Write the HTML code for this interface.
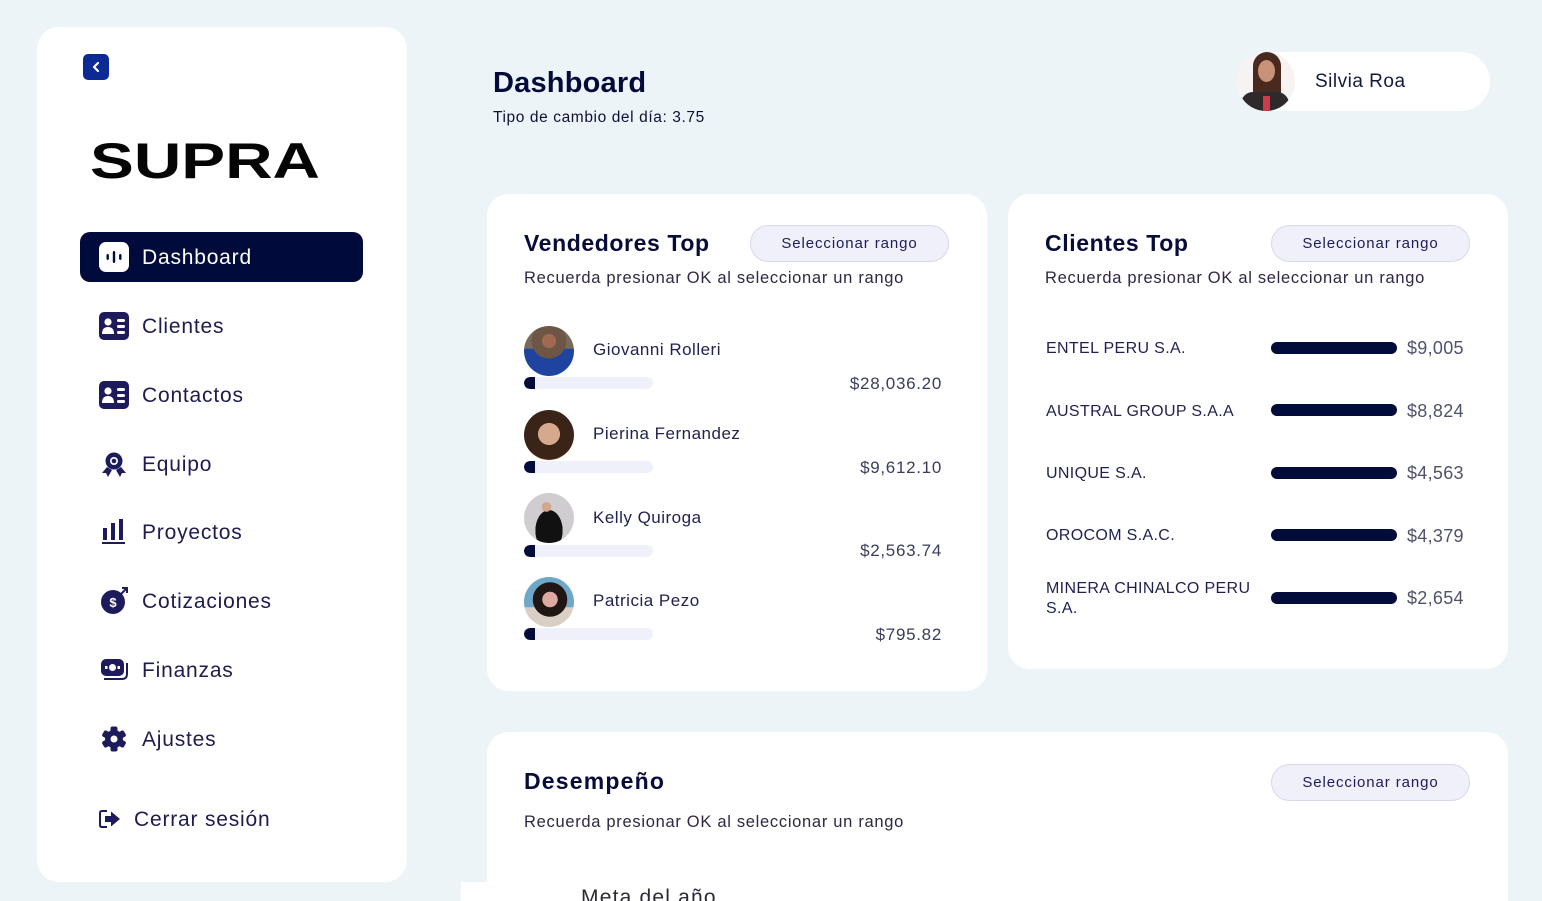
<!DOCTYPE html>
<html style="width:1542px;height:901px;overflow:hidden"><head><meta charset="utf-8">
<style>
*{margin:0;padding:0;box-sizing:border-box}
body{width:1542px;height:901px;overflow:hidden;background:#edf4f8;font-family:"Liberation Sans",sans-serif;position:relative;color:#1c1d4d}
.a{position:absolute;white-space:nowrap}
.card{position:absolute;background:#fff;border-radius:22px}
.menu{position:absolute;left:142px;font-size:21px;letter-spacing:0.8px;color:#1c1c4e;line-height:24px}
.ic{position:absolute;left:99px}
.ttl{position:absolute;font-weight:bold;font-size:23px;letter-spacing:0.6px;color:#070c38;line-height:28px}
.btn{position:absolute;width:199px;height:37px;border-radius:19px;background:#f0f0fb;border:1px solid #d9d8ea;font-size:15px;letter-spacing:0.9px;color:#1d1c57;text-align:center;line-height:35px}
.sub{position:absolute;font-size:16.5px;letter-spacing:0.7px;color:#2f2743;line-height:20px}
.av{position:absolute;width:50px;height:50px;border-radius:50%;overflow:hidden}
.vn{position:absolute;left:593px;font-size:17px;letter-spacing:0.5px;color:#202350;line-height:20px}
.pb{position:absolute;left:524px;width:129px;height:12px;border-radius:6px;background:#f0f0fa;overflow:hidden}
.pb i{position:absolute;left:0;top:0;width:11px;height:12px;background:#020c3b;border-radius:6px 0 0 6px}
.amt{position:absolute;right:600px;font-size:17px;letter-spacing:0.7px;color:#3b3c5c;line-height:20px}
.cn{position:absolute;left:1046px;font-size:16px;letter-spacing:0.35px;color:#1e2150;line-height:20px;width:220px;white-space:normal}
.cb{position:absolute;left:1271px;width:126px;height:12px;border-radius:6px;background:#020c3b}
.ca{position:absolute;left:1407px;font-size:18px;letter-spacing:0.3px;color:#50526c;line-height:20px}
</style></head><body>

<!-- Sidebar -->
<div class="card" style="left:37px;top:27px;width:370px;height:855px;border-radius:22px"></div>
<div class="a" style="left:83px;top:54px;width:26px;height:26px;border-radius:5px;background:#0b2a96"></div>
<svg class="a" style="left:83px;top:54px" width="26" height="26"><path d="M15 9 L11 13 L15 17" stroke="#fff" stroke-width="2.2" fill="none" stroke-linecap="round" stroke-linejoin="round"/></svg>

<svg class="a" style="left:88px;top:130px" width="240" height="56">
<text x="2" y="48" font-family="Liberation Sans" font-weight="bold" font-size="50" textLength="230" lengthAdjust="spacingAndGlyphs" fill="#050505">SUPRA</text>
</svg>

<div class="a" style="left:80px;top:232px;width:283px;height:50px;border-radius:10px;background:#010b3b"></div>
<div class="a" style="left:99px;top:242px;width:30px;height:30px;border-radius:7px;background:#fff"></div>
<svg class="a" style="left:99px;top:242px" width="30" height="30"><rect x="7.5" y="12" width="2.4" height="6" rx="1.2" fill="#010b3b"/><rect x="13.8" y="9" width="2.4" height="12" rx="1.2" fill="#010b3b"/><rect x="20.1" y="12" width="2.4" height="6" rx="1.2" fill="#010b3b"/></svg>
<div class="menu" style="top:246px;color:#fff">Dashboard</div>

<!-- Clientes icon -->
<svg class="ic" style="top:312px" width="30" height="28"><rect x="0" y="0" width="30" height="28" rx="5" fill="#1e1b5c"/><circle cx="9" cy="10" r="3.6" fill="#fff"/><path d="M3 22 Q3 15 9 15 Q15 15 15 22 Z" fill="#fff"/><rect x="18" y="7" width="8" height="3" rx="1.5" fill="#fff"/><rect x="18" y="13" width="8" height="3" rx="1.5" fill="#fff"/><rect x="18" y="19" width="8" height="3" rx="1.5" fill="#fff"/></svg>
<div class="menu" style="top:315px">Clientes</div>

<svg class="ic" style="top:381px" width="30" height="28"><rect x="0" y="0" width="30" height="28" rx="5" fill="#1e1b5c"/><circle cx="9" cy="10" r="3.6" fill="#fff"/><path d="M3 22 Q3 15 9 15 Q15 15 15 22 Z" fill="#fff"/><rect x="18" y="7" width="8" height="3" rx="1.5" fill="#fff"/><rect x="18" y="13" width="8" height="3" rx="1.5" fill="#fff"/><rect x="18" y="19" width="8" height="3" rx="1.5" fill="#fff"/></svg>
<div class="menu" style="top:384px">Contactos</div>

<!-- Equipo icon -->
<svg class="ic" style="top:451px;left:100px" width="28" height="28"><circle cx="14" cy="10" r="8.5" fill="#1e1b5c"/><circle cx="14" cy="10" r="4" fill="#fff"/><circle cx="14" cy="10" r="2.3" fill="#1e1b5c"/><path d="M7 16 L2 22 L6 22 L8 26 L12 19 Z" fill="#1e1b5c"/><path d="M21 16 L26 22 L22 22 L20 26 L16 19 Z" fill="#1e1b5c"/></svg>
<div class="menu" style="top:453px">Equipo</div>

<!-- Proyectos icon -->
<svg class="ic" style="top:518px;left:101px" width="26" height="28"><rect x="2" y="10" width="4" height="12" fill="#1e1b5c"/><rect x="10" y="5" width="4" height="17" fill="#1e1b5c"/><rect x="18" y="1" width="4" height="21" fill="#1e1b5c"/><rect x="1" y="24" width="23" height="2" fill="#1e1b5c"/></svg>
<div class="menu" style="top:521px">Proyectos</div>

<!-- Cotizaciones icon -->
<svg class="ic" style="top:587px;left:100px" width="30" height="28"><circle cx="13" cy="15" r="12" fill="#1e1b5c"/><text x="13" y="20" text-anchor="middle" font-family="Liberation Sans" font-weight="bold" font-size="13" fill="#fff">$</text><path d="M20 8 L27 1 M22 1 L27 1 L27 6" stroke="#1e1b5c" stroke-width="2" fill="none"/></svg>
<div class="menu" style="top:590px">Cotizaciones</div>

<!-- Finanzas icon -->
<svg class="ic" style="top:658px;left:100px" width="30" height="26"><rect x="1" y="1" width="23" height="17" rx="5" fill="#1e1b5c"/><circle cx="12.5" cy="9.5" r="3.5" fill="#fff"/><rect x="5" y="8" width="2.5" height="3" fill="#fff"/><rect x="17.5" y="8" width="2.5" height="3" fill="#fff"/><path d="M4 21 L22 21 Q27 21 27 16 L27 5" stroke="#1e1b5c" stroke-width="2" fill="none"/></svg>
<div class="menu" style="top:659px">Finanzas</div>

<!-- Ajustes icon -->
<svg class="ic" style="top:726px;left:101px" width="26" height="26"><g fill="#1e1b5c" transform="translate(13,13)"><circle r="9"/><rect x="-3.5" y="-12.5" width="7" height="25" rx="2"/><rect x="-3.5" y="-12.5" width="7" height="25" rx="2" transform="rotate(60)"/><rect x="-3.5" y="-12.5" width="7" height="25" rx="2" transform="rotate(120)"/></g><circle cx="13" cy="13" r="3.5" fill="#fff"/></svg>
<div class="menu" style="top:728px">Ajustes</div>

<!-- Cerrar sesion icon -->
<svg class="ic" style="top:809px;left:99px" width="24" height="20"><path d="M8 2 L3 2 Q1 2 1 4 L1 16 Q1 18 3 18 L8 18" stroke="#1e1b5c" stroke-width="2" fill="none"/><path d="M6 7 L12 7 L12 2.5 L21 10 L12 17.5 L12 13 L6 13 Z" fill="#1e1b5c"/></svg>
<div class="menu" style="top:808px;left:134px">Cerrar sesión</div>

<!-- Header -->
<div class="a" style="left:493px;top:66px;font-size:29px;font-weight:bold;color:#040b3a;line-height:34px;letter-spacing:0.2px">Dashboard</div>
<div class="a" style="left:493px;top:108px;font-size:15.5px;letter-spacing:0.6px;color:#0f1035;line-height:20px">Tipo de cambio del día: 3.75</div>

<div class="a" style="left:1237px;top:52px;width:253px;height:59px;border-radius:30px;background:#fff"></div>
<div class="a" style="left:1237px;top:52px;width:58px;height:59px;border-radius:50%;overflow:hidden;background:#f7f3f2">
<div style="position:absolute;left:16px;top:0px;width:28px;height:48px;border-radius:14px 14px 4px 4px;background:#4a2a1e"></div>
<div style="position:absolute;left:21px;top:8px;width:17px;height:22px;border-radius:50%;background:#c99278"></div>
<div style="position:absolute;left:4px;top:40px;width:48px;height:24px;border-radius:12px 12px 0 0;background:#2e2a2c"></div>
<div style="position:absolute;left:26px;top:44px;width:7px;height:15px;background:#d23a4a"></div>
</div>
<div class="a" style="left:1315px;top:71px;font-size:19px;letter-spacing:0.5px;color:#121b3e;line-height:22px">Silvia Roa</div>

<!-- Vendedores Top -->
<div class="card" style="left:487px;top:194px;width:500px;height:497px"></div>
<div class="ttl" style="left:524px;top:229px">Vendedores Top</div>
<div class="btn" style="left:750px;top:225px">Seleccionar rango</div>
<div class="sub" style="left:524px;top:268px">Recuerda presionar OK al seleccionar un rango</div>

<div class="av" style="left:524px;top:326px;background:radial-gradient(circle at 50% 30%,#a06a50 0 16%,#6e5646 17% 40%,transparent 41%),linear-gradient(180deg,#7a6a5c 0 45%,#1f44a0 46%)"></div>
<div class="vn" style="left:593px;top:340px">Giovanni Rolleri</div>
<div class="pb" style="top:377px"><i></i></div>
<div class="amt" style="top:374px">$28,036.20</div>

<div class="av" style="left:524px;top:410px;background:radial-gradient(circle at 50% 48%,#d6a88c 0 30%,#3a2418 31% 70%,#8a4a2a 71%)"></div>
<div class="vn" style="left:593px;top:424px">Pierina Fernandez</div>
<div class="pb" style="top:461px"><i></i></div>
<div class="amt" style="top:458px">$9,612.10</div>

<div class="av" style="left:524px;top:493px;background:radial-gradient(circle at 45% 28%,#d5a58c 0 10%,transparent 11%),radial-gradient(ellipse at 50% 75%,#111 0 38%,transparent 39%),#cfcdd0"></div>
<div class="vn" style="left:593px;top:508px">Kelly Quiroga</div>
<div class="pb" style="top:545px"><i></i></div>
<div class="amt" style="top:541px">$2,563.74</div>

<div class="av" style="left:524px;top:577px;background:radial-gradient(circle at 52% 45%,#dcaaa0 0 20%,#201614 21% 45%,transparent 46%),linear-gradient(180deg,#6fa7c8 0 60%,#d9cfc4 61%)"></div>
<div class="vn" style="left:593px;top:591px">Patricia Pezo</div>
<div class="pb" style="top:628px"><i></i></div>
<div class="amt" style="top:625px">$795.82</div>

<!-- Clientes Top -->
<div class="card" style="left:1008px;top:194px;width:500px;height:475px"></div>
<div class="ttl" style="left:1045px;top:229px">Clientes Top</div>
<div class="btn" style="left:1271px;top:225px">Seleccionar rango</div>
<div class="sub" style="left:1045px;top:268px">Recuerda presionar OK al seleccionar un rango</div>

<div class="cn" style="top:339px">ENTEL PERU S.A.</div>
<div class="cb" style="top:342px"></div>
<div class="ca" style="top:338px">$9,005</div>

<div class="cn" style="top:402px">AUSTRAL GROUP S.A.A</div>
<div class="cb" style="top:404px"></div>
<div class="ca" style="top:401px">$8,824</div>

<div class="cn" style="top:464px">UNIQUE S.A.</div>
<div class="cb" style="top:467px"></div>
<div class="ca" style="top:463px">$4,563</div>

<div class="cn" style="top:526px">OROCOM S.A.C.</div>
<div class="cb" style="top:529px"></div>
<div class="ca" style="top:526px">$4,379</div>

<div class="cn" style="top:579px;line-height:20px;width:218px">MINERA CHINALCO PERU S.A.</div>
<div class="cb" style="top:592px"></div>
<div class="ca" style="top:588px">$2,654</div>

<!-- Desempeño -->
<div class="card" style="left:487px;top:732px;width:1021px;height:169px;border-radius:22px 22px 0 0"></div>
<div class="a" style="left:461px;top:882px;width:40px;height:19px;background:#fff"></div>
<div class="ttl" style="left:524px;top:767px;letter-spacing:1.2px">Desempeño</div>
<div class="btn" style="left:1271px;top:764px">Seleccionar rango</div>
<div class="sub" style="left:524px;top:812px">Recuerda presionar OK al seleccionar un rango</div>
<div class="a" style="left:581px;top:886px;font-size:21px;letter-spacing:1.2px;color:#2a2a35;line-height:24px;height:15px;overflow:hidden">Meta del año</div>

</body></html>
